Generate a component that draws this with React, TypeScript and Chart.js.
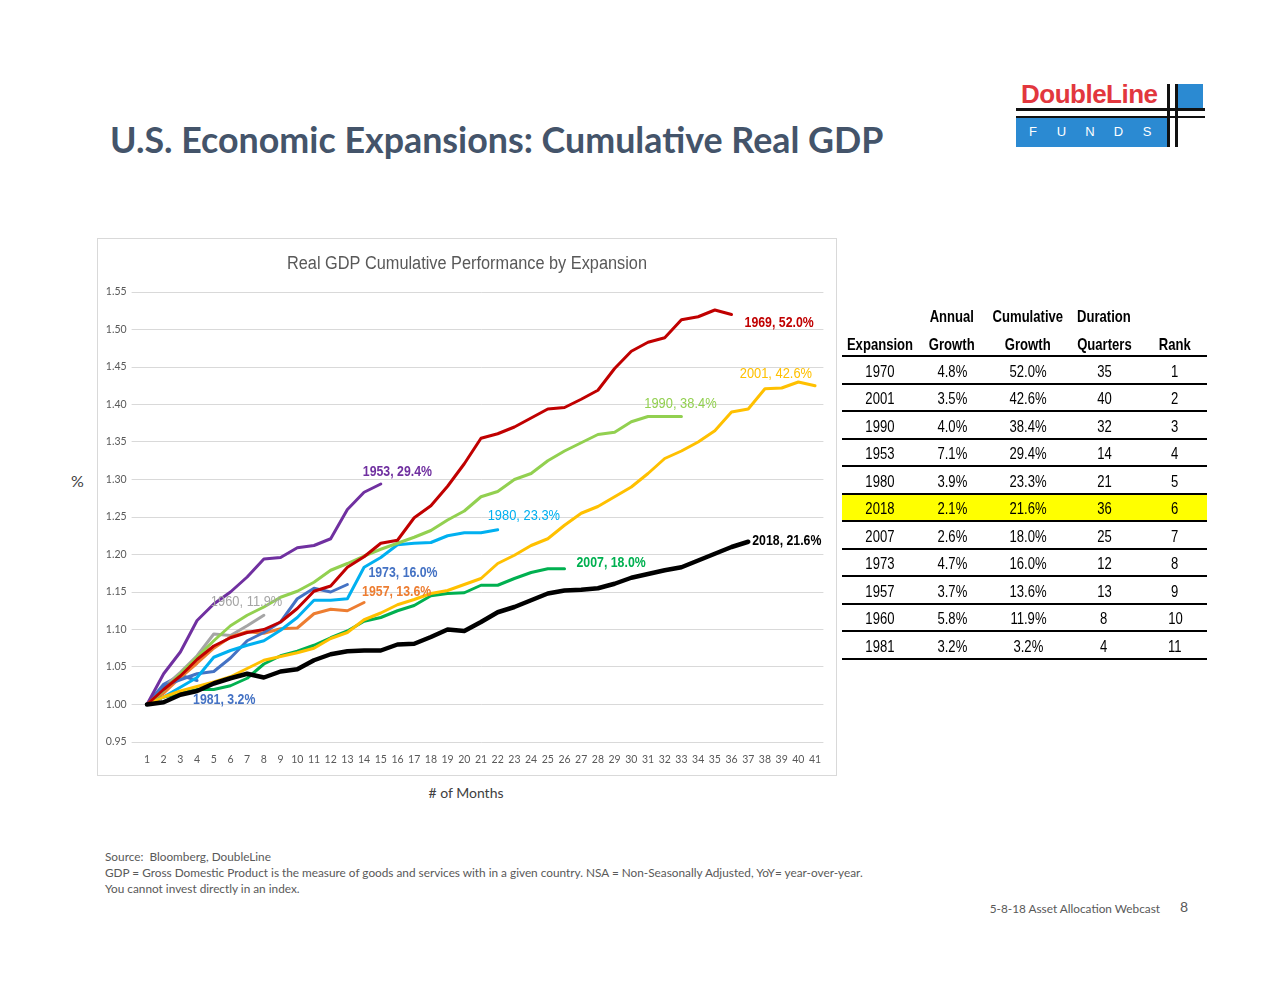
import React, { useEffect, useRef } from "react";
import { Chart, registerables } from "chart.js";

Chart.register(...registerables);

// ---------- data ----------
const monthLabels = Array.from({ length: 41 }, (_, i) => String(i + 1));
const yTicks = [0.95, 1.0, 1.05, 1.1, 1.15, 1.2, 1.25, 1.3, 1.35, 1.4, 1.45, 1.5, 1.55];

const gdp2018 = [1.0, 1.003, 1.013, 1.018, 1.028, 1.035, 1.041, 1.036, 1.044, 1.047, 1.059, 1.067, 1.071, 1.072, 1.072, 1.08, 1.081, 1.09, 1.1, 1.098, 1.11, 1.123, 1.13, 1.139, 1.148, 1.152, 1.153, 1.155, 1.161, 1.169, 1.174, 1.179, 1.183, 1.192, 1.201, 1.21, 1.217];
const gdp1969 = [1.0, 1.02, 1.038, 1.06, 1.078, 1.089, 1.096, 1.1, 1.11, 1.128, 1.151, 1.158, 1.183, 1.197, 1.215, 1.219, 1.249, 1.265, 1.291, 1.321, 1.355, 1.361, 1.37, 1.382, 1.394, 1.396, 1.407, 1.419, 1.448, 1.471, 1.483, 1.489, 1.513, 1.517, 1.526, 1.52];
const gdp2001 = [1.0, 1.01, 1.018, 1.024, 1.03, 1.037, 1.048, 1.059, 1.064, 1.069, 1.075, 1.088, 1.096, 1.113, 1.122, 1.133, 1.14, 1.148, 1.152, 1.16, 1.168, 1.188, 1.199, 1.212, 1.221, 1.239, 1.255, 1.264, 1.277, 1.29, 1.308, 1.328, 1.338, 1.35, 1.365, 1.39, 1.394, 1.421, 1.422, 1.43, 1.425];
const gdp1990 = [1.0, 1.019, 1.041, 1.063, 1.085, 1.105, 1.119, 1.13, 1.143, 1.151, 1.163, 1.179, 1.188, 1.198, 1.207, 1.215, 1.223, 1.232, 1.246, 1.258, 1.277, 1.284, 1.3, 1.308, 1.325, 1.338, 1.349, 1.36, 1.363, 1.377, 1.384, 1.384, 1.384];
const gdp1953 = [1.0, 1.041, 1.07, 1.112, 1.134, 1.15, 1.17, 1.194, 1.196, 1.209, 1.212, 1.221, 1.26, 1.283, 1.294];
const gdp1980 = [1.0, 1.01, 1.023, 1.036, 1.063, 1.072, 1.079, 1.085, 1.099, 1.116, 1.139, 1.139, 1.141, 1.183, 1.196, 1.213, 1.215, 1.216, 1.225, 1.229, 1.229, 1.233];
const gdp2007 = [1.0, 1.01, 1.015, 1.02, 1.02, 1.025, 1.035, 1.054, 1.065, 1.071, 1.079, 1.089, 1.098, 1.111, 1.116, 1.125, 1.132, 1.145, 1.148, 1.149, 1.159, 1.159, 1.168, 1.176, 1.181, 1.181];
const gdp1973 = [1.0, 1.025, 1.033, 1.041, 1.044, 1.062, 1.085, 1.096, 1.11, 1.141, 1.155, 1.15, 1.16];
const gdp1957 = [1.0, 1.015, 1.036, 1.055, 1.075, 1.09, 1.097, 1.095, 1.101, 1.102, 1.121, 1.127, 1.125, 1.136];
const gdp1960 = [1.0, 1.023, 1.043, 1.065, 1.094, 1.092, 1.105, 1.119];
const gdp1981 = [1.0, 1.027, 1.039, 1.032];

const tableExpansion = ["1970", "2001", "1990", "1953", "1980", "2018", "2007", "1973", "1957", "1960", "1981"];
const tableAnnual = ["4.8%", "3.5%", "4.0%", "7.1%", "3.9%", "2.1%", "2.6%", "4.7%", "3.7%", "5.8%", "3.2%"];
const tableCumulative = ["52.0%", "42.6%", "38.4%", "29.4%", "23.3%", "21.6%", "18.0%", "16.0%", "13.6%", "11.9%", "3.2%"];
const tableDuration = ["35", "40", "32", "14", "21", "36", "25", "12", "13", "8", "4"];
const tableRank = ["1", "2", "3", "4", "5", "6", "7", "8", "9", "10", "11"];

// ---------- styles ----------
const SANS = '"Liberation Sans", Arial, sans-serif';
const BODY = 'Lato, "Open Sans", sans-serif';

const series = [
  { data: gdp2018, label: "2018, 21.6%", color: "#000000", width: 4.5, dx: 4, dy: -1, align: "left", bold: true },
  { data: gdp1969, label: "1969, 52.0%", color: "#C00000", width: 3, dx: 13, dy: 9, align: "left", bold: true },
  { data: gdp2001, label: "2001, 42.6%", color: "#FFC000", width: 3, dx: -3, dy: -12, align: "right", bold: false },
  { data: gdp1990, label: "1990, 38.4%", color: "#92D050", width: 3, dx: -1, dy: -12, align: "center", bold: false },
  { data: gdp1953, label: "1953, 29.4%", color: "#7030A0", width: 3, dx: -18, dy: -12, align: "left", bold: true },
  { data: gdp1980, label: "1980, 23.3%", color: "#00B0F0", width: 3, dx: -10, dy: -14, align: "left", bold: false },
  { data: gdp2007, label: "2007, 18.0%", color: "#00B050", width: 3, dx: 12, dy: -6, align: "left", bold: true },
  { data: gdp1973, label: "1973, 16.0%", color: "#4472C4", width: 3, dx: 21, dy: -11, align: "left", bold: true },
  { data: gdp1957, label: "1957, 13.6%", color: "#ED7D31", width: 3, dx: -2, dy: -10, align: "left", bold: true },
  { data: gdp1960, label: "1960, 11.9%", color: "#A5A5A5", width: 3, dx: -53, dy: -13, align: "left", bold: false },
  { data: gdp1981, label: "1981, 3.2%", color: "#4472C4", width: 3, dx: -4, dy: 20, align: "left", bold: true },
];

function drawScaled(ctx: any, text: string, x: number, y: number, align: string, sx: number) {
  ctx.save();
  ctx.translate(x, y);
  ctx.scale(sx, 1);
  ctx.textAlign = align;
  ctx.textBaseline = "middle";
  ctx.fillText(text, 0, 0);
  ctx.restore();
}

const endLabelPlugin = {
  id: "endLabels",
  afterDatasetsDraw(chart: any) {
    const ctx = chart.ctx;
    chart.data.datasets.forEach((ds: any, i: number) => {
      const meta = chart.getDatasetMeta(i);
      const pt = meta.data[meta.data.length - 1];
      if (!pt) return;
      ctx.save();
      ctx.font = `${ds.endBold ? "bold " : ""}14px ${SANS}`;
      ctx.fillStyle = ds.borderColor;
      drawScaled(ctx, ds.endLabel, pt.x + ds.endDx, pt.y + ds.endDy, ds.endAlign, ds.endBold ? 0.88 : 0.92);
      ctx.restore();
    });
  },
  afterDraw(chart: any) {
    const ctx = chart.ctx;
    ctx.save();
    ctx.font = `18px ${SANS}`;
    ctx.fillStyle = "#595959";
    const text = "Real GDP Cumulative Performance by Expansion";
    const w = ctx.measureText(text).width;
    drawScaled(ctx, text, 369, 25, "center", 360 / w);
    ctx.restore();
  },
};

function GdpChart() {
  const ref = useRef<HTMLCanvasElement>(null);
  useEffect(() => {
    if (!ref.current) return;
    const chart = new Chart(ref.current, {
      type: "line",
      data: {
        labels: monthLabels,
        datasets: series.map((s) => ({
          data: s.data,
          borderColor: s.color,
          backgroundColor: s.color,
          borderWidth: s.width,
          pointRadius: 0,
          tension: 0,
          fill: false,
          borderCapStyle: "round",
          borderJoinStyle: "round",
          endLabel: s.label,
          endDx: s.dx,
          endDy: s.dy,
          endAlign: s.align,
          endBold: s.bold,
        })) as any,
      },
      options: {
        animation: false,
        responsive: false,
        maintainAspectRatio: false,
        layout: { padding: { left: 0, right: 12.6, top: 53, bottom: 0 } },
        plugins: {
          legend: { display: false },
          tooltip: { enabled: false },
          title: { display: false },
        },
        scales: {
          x: {
            type: "category",
            offset: true,
            grid: { display: false, drawTicks: false },
            border: { display: false },
            ticks: {
              autoSkip: false,
              maxRotation: 0,
              padding: 11,
              color: "#595959",
              font: { family: BODY, size: 10.5 },
            },
            afterFit: (s: any) => {
              s.height = 33;
            },
          },
          y: {
            min: 0.95,
            max: 1.55,
            afterBuildTicks: (s: any) => {
              s.ticks = yTicks.map((v) => ({ value: v }));
            },
            grid: { color: "#D9D9D9", lineWidth: 1, drawTicks: true, tickLength: 7 },
            border: { display: false },
            ticks: {
              padding: 5,
              color: "#595959",
              font: { family: BODY, size: 10.5 },
              callback: (v: any) => Number(v).toFixed(2),
            },
            afterFit: (s: any) => {
              s.width = 40.6;
            },
          },
        },
      },
      plugins: [endLabelPlugin],
    });
    return () => chart.destroy();
  }, []);
  return <canvas ref={ref} width={738} height={536} style={{ display: "block" }} />;
}

function Logo() {
  return (
    <div style={{ position: "absolute", left: 1016, top: 80, width: 192, height: 70 }}>
      <div
        style={{
          position: "absolute",
          left: 5,
          top: 0,
          fontFamily: SANS,
          fontWeight: "bold",
          fontSize: 26,
          color: "#E2373E",
          letterSpacing: -0.5,
          lineHeight: "28px",
        }}
      >
        DoubleLine
      </div>
      <div style={{ position: "absolute", left: 0, top: 38, width: 152, height: 29, background: "#2B8AD2" }} />
      <div style={{ position: "absolute", left: 162, top: 4, width: 25, height: 25, background: "#2B8AD2" }} />
      <div style={{ position: "absolute", left: 0, top: 28, width: 189, height: 2.5, background: "#111" }} />
      <div style={{ position: "absolute", left: 0, top: 35.5, width: 189, height: 2.5, background: "#111" }} />
      <div style={{ position: "absolute", left: 151, top: 4, width: 2.5, height: 63, background: "#111" }} />
      <div style={{ position: "absolute", left: 159, top: 4, width: 2.5, height: 63, background: "#111" }} />
      {["F", "U", "N", "D", "S"].map((ch, i) => (
        <div
          key={ch}
          style={{
            position: "absolute",
            left: 12 + i * 28.5,
            top: 44,
            width: 10,
            textAlign: "center",
            color: "#fff",
            fontFamily: SANS,
            fontSize: 13,
            lineHeight: "16px",
          }}
        >
          {ch}
        </div>
      ))}
    </div>
  );
}

function StatsTable() {
  const colCenters = [880, 952, 1028, 1104, 1175];
  const cols = [tableExpansion, tableAnnual, tableCumulative, tableDuration, tableRank];
  const head1 = ["", "Annual", "Cumulative", "Duration", ""];
  const head2 = ["Expansion", "Growth", "Growth", "Quarters", "Rank"];
  const cell = (text: string, cx: number, top: number, h: number, bold: boolean, key: string) => (
    <div
      key={key}
      style={{
        position: "absolute",
        left: cx - 60,
        width: 120,
        top,
        height: h,
        lineHeight: `${h}px`,
        textAlign: "center",
        fontFamily: SANS,
        fontSize: 17,
        fontWeight: bold ? "bold" : "normal",
        color: "#000",
        whiteSpace: "nowrap",
      }}
    >
      <span style={{ display: "inline-block", transform: "scaleX(0.77)", transformOrigin: "50% 50%" }}>{text}</span>
    </div>
  );
  const lines = [];
  for (let j = 0; j <= tableExpansion.length; j++) {
    lines.push(
      <div key={"l" + j} style={{ position: "absolute", left: 842, width: 365, top: 355 + j * 27.5, height: 2, background: "#000" }} />
    );
  }
  return (
    <>
      <div style={{ position: "absolute", left: 842, width: 365, top: 494.5, height: 26, background: "#FFFF00" }} />
      {lines}
      {head1.map((t, i) => cell(t, colCenters[i], 305, 24, true, "h1" + i))}
      {head2.map((t, i) => cell(t, colCenters[i], 333, 24, true, "h2" + i))}
      {tableExpansion.map((_, r) =>
        cols.map((c, i) => cell(c[r], colCenters[i], 358.5 + r * 27.5, 26, false, `c${r}_${i}`))
      )}
    </>
  );
}

export default function App() {
  return (
    <div
      style={{
        position: "absolute",
        left: 0,
        top: 0,
        width: 1280,
        height: 989,
        background: "#fff",
        overflow: "hidden",
        fontFamily: BODY,
      }}
    >
      <div
        style={{
          position: "absolute",
          left: 110,
          top: 119,
          fontFamily: BODY,
          fontWeight: "bold",
          fontSize: 35.8,
          color: "#44546A",
          lineHeight: "42px",
          whiteSpace: "nowrap",
        }}
      >
        U.S. Economic Expansions: Cumulative Real GDP
      </div>
      <Logo />
      <div
        style={{
          position: "absolute",
          left: 97,
          top: 238,
          width: 738,
          height: 536,
          border: "1px solid #D9D9D9",
        }}
      >
        <GdpChart />
      </div>
      <div style={{ position: "absolute", left: 71, top: 471, fontSize: 16, color: "#404040", lineHeight: "20px" }}>%</div>
      <div style={{ position: "absolute", left: 366, width: 200, textAlign: "center", top: 784, fontSize: 14, color: "#404040", lineHeight: "18px" }}>
        # of Months
      </div>
      <StatsTable />
      <div style={{ position: "absolute", left: 105, top: 849, fontSize: 11.8, color: "#595959", lineHeight: "16px", whiteSpace: "nowrap" }}>
        <div>Source:&nbsp; Bloomberg, DoubleLine</div>
        <div>GDP = Gross Domestic Product is the measure of goods and services with in a given country. NSA = Non-Seasonally Adjusted, YoY= year-over-year.</div>
        <div>You cannot invest directly in an index.</div>
      </div>
      <div style={{ position: "absolute", right: 1280 - 1160, top: 901, fontSize: 11.8, color: "#595959", lineHeight: "16px", whiteSpace: "nowrap" }}>
        5-8-18 Asset Allocation Webcast
      </div>
      <div style={{ position: "absolute", left: 1180, top: 898, fontSize: 14, color: "#595959", lineHeight: "18px" }}>8</div>
    </div>
  );
}
